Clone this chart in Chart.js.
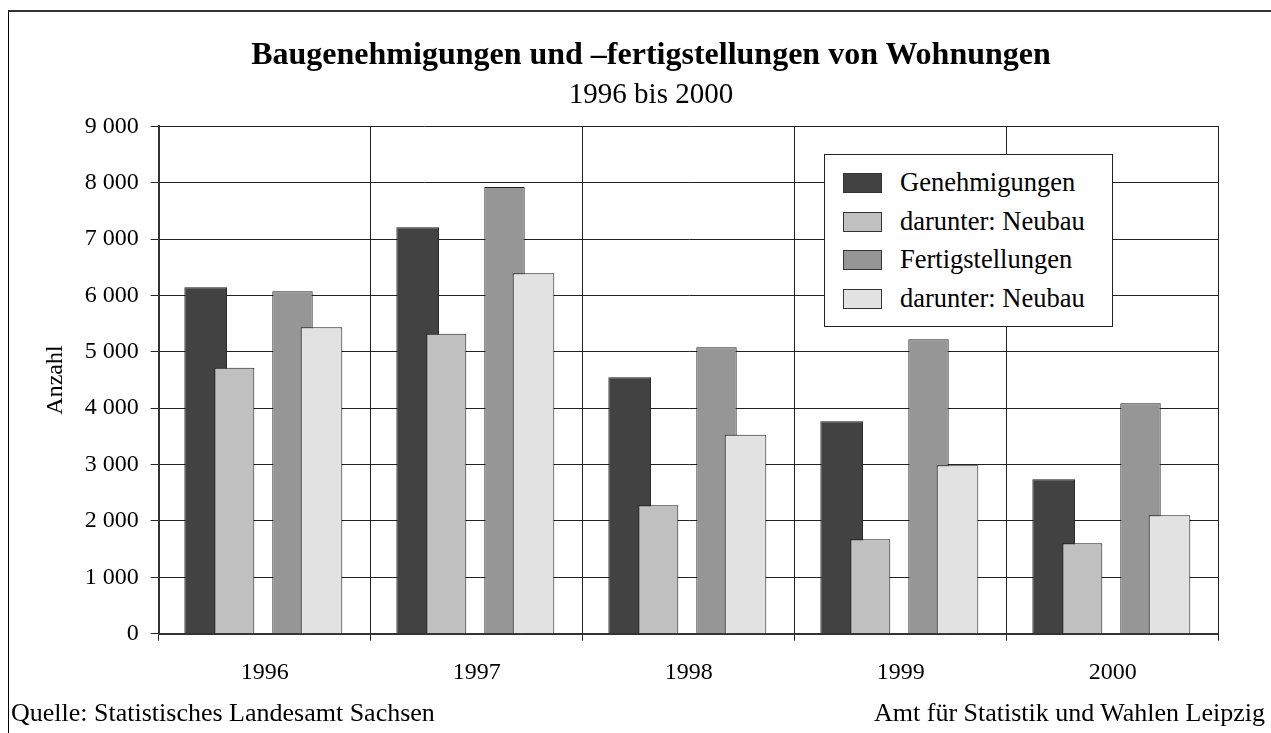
<!DOCTYPE html>
<html lang="de">
<head>
<meta charset="utf-8">
<title>Baugenehmigungen und -fertigstellungen von Wohnungen</title>
<script src="https://cdn.jsdelivr.net/npm/chart.js@4/dist/chart.umd.min.js"></script>
<style>
  html, body { margin: 0; padding: 0; background: #fff; overflow: hidden; }
  body { width: 1271px; height: 733px; position: relative; font-family: "Liberation Serif", "Times New Roman", serif; color: #000; }
  #frame { position: absolute; left: 8px; top: 10px; width: 1300px; height: 760px;
           border-top: 2px solid #333; border-left: 1px solid #000; }
  #chart { position: absolute; left: 0; top: 0; }
  .txt { position: absolute; white-space: nowrap; line-height: 1; }
  #title { left: 0; width: 1302px; text-align: center; top: 37px; font-size: 32px; font-weight: bold; }
  #subtitle { left: 0; width: 1302px; text-align: center; top: 79px; font-size: 29px; }
  #srcLeft { left: 11px; top: 700px; font-size: 26px; }
  #srcRight { right: 6px; top: 700px; font-size: 26px; }
  #legend { position: absolute; left: 824px; top: 154px; width: 287px; height: 171px;
            border: 1px solid #222; background: #fff; }
  .row { position: absolute; left: 18px; height: 20px; }
  .sw { position: absolute; left: 0; top: 0; width: 37px; height: 18px; border: 1px solid #333; }
  .lbl { position: absolute; left: 57px; top: -4px; font-size: 26.5px; line-height: 1; white-space: nowrap; }
</style>
</head>
<body>
<div id="frame"></div>
<canvas id="chart" width="1271" height="733"></canvas>
<div class="txt" id="title">Baugenehmigungen und –fertigstellungen von Wohnungen</div>
<div class="txt" id="subtitle">1996 bis 2000</div>
<div id="legend"></div>
<div class="txt" id="srcLeft">Quelle: Statistisches Landesamt Sachsen</div>
<div class="txt" id="srcRight">Amt für Statistik und Wahlen Leipzig</div>

<script>
const years = ["1996", "1997", "1998", "1999", "2000"];

const genehmigungen       = [6145, 7210, 4548, 3768, 2739];
const genehmigungenNeu    = [4719, 5322, 2278, 1675, 1604];
const fertigstellungen    = [6074, 7925, 5081, 5223, 4087];
const fertigstellungenNeu = [5436, 6394, 3530, 2987, 2100];

const seriesLabels = ["Genehmigungen", "darunter: Neubau", "Fertigstellungen", "darunter: Neubau"];
const seriesColors = ["#424242", "#c0c0c0", "#969696", "#e2e2e2"];

const serif = '"Liberation Serif", "Times New Roman", serif';

// Bars of a pair overlap, the "Neubau" bar in front. Chart.js draws the first
// dataset last, so the datasets go in as [Neubau G, Genehmigungen, Neubau F,
// Fertigstellungen]; per-dataset percentages shift each bar to its place.
const datasets = [
  { label: seriesLabels[1], data: genehmigungenNeu, backgroundColor: seriesColors[1],
    categoryPercentage: 0.3824, barPercentage: 1.973 },
  { label: seriesLabels[0], data: genehmigungen, backgroundColor: seriesColors[0],
    categoryPercentage: 2.2264, barPercentage: 0.362 },
  { label: seriesLabels[3], data: fertigstellungenNeu, backgroundColor: seriesColors[3],
    categoryPercentage: 2.1434, barPercentage: 0.366 },
  { label: seriesLabels[2], data: fertigstellungen, backgroundColor: seriesColors[2],
    categoryPercentage: 0.3497, barPercentage: 2.18 }
].map(d => Object.assign(d, { borderColor: "#1e1e1e", borderWidth: 1 }));

const fmt = v => String(v).replace(/\B(?=(\d{3})+(?!\d))/g, " ");

new Chart(document.getElementById("chart"), {
  type: "bar",
  data: { labels: years, datasets },
  options: {
    responsive: false,
    animation: false,
    layout: { padding: { left: 0, right: 52.3, top: 126.3, bottom: 39.3 } },
    plugins: { legend: { display: false }, title: { display: false }, tooltip: { enabled: false } },
    scales: {
      x: {
        offset: true,
        grid: { color: "#222", lineWidth: 1, offset: true, tickLength: 7 },
        border: { color: "#333", width: 2 },
        ticks: { color: "#000", font: { family: serif, size: 24 }, padding: 18, maxRotation: 0 },
        afterFit: s => { s.height = 60; }
      },
      y: {
        min: 0, max: 9000,
        grid: { color: "#222", lineWidth: 1, tickLength: 8 },
        border: { color: "#333", width: 2 },
        ticks: { stepSize: 1000, color: "#000", font: { family: serif, size: 24 }, padding: 12, callback: fmt },
        title: { display: true, text: "Anzahl", color: "#000", font: { family: serif, size: 24 }, padding: { top: 41.6 } },
        afterFit: s => { s.width = 158.7; }
      }
    }
  }
});

// legend box inside the plot, built from the same series
const legendEl = document.getElementById("legend");
const rowTops = [18, 57, 95, 134];
seriesLabels.forEach((name, i) => {
  const row = document.createElement("div");
  row.className = "row";
  row.style.top = rowTops[i] + "px";
  row.innerHTML = `<div class="sw" style="background:${seriesColors[i]}"></div><div class="lbl">${name}</div>`;
  legendEl.appendChild(row);
});
</script>
</body>
</html>
